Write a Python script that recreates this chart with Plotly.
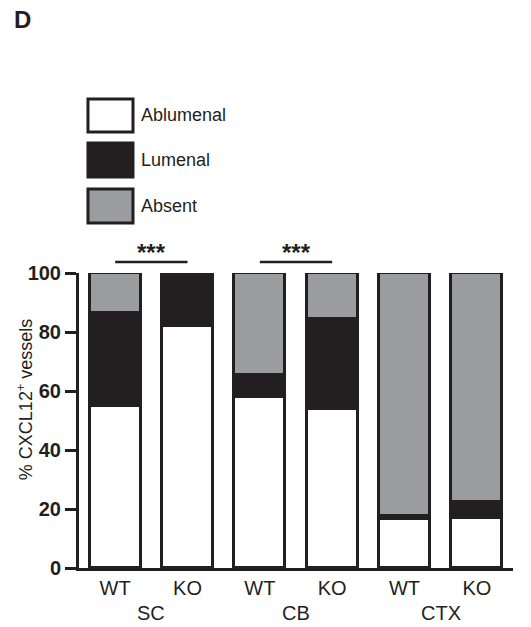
import plotly.graph_objects as go

# ---- data ----
genotypes = ["WT", "KO", "WT", "KO", "WT", "KO"]
regions = ["SC", "CB", "CTX"]
ablumenal = [55, 82, 58, 54, 16.5, 17]
lumenal = [31.5, 18, 7.5, 30.5, 1, 5.5]
absent = [13.5, 0, 34.5, 15.5, 82.5, 77.5]
series_names = ["Ablumenal", "Lumenal", "Absent"]
sig_pairs = [(0, 1), (2, 3)]
sig_labels = ["***", "***"]
sig_level = 103.7
y_ticks = [0, 20, 40, 60, 80, 100]
y_max = 100

# ---- style ----
INK = "#231f20"
colors = {"Ablumenal": "#ffffff", "Lumenal": "#231f20", "Absent": "#9b9c9e"}
FONT = "Liberation Sans, Arial, sans-serif"

x = list(range(len(genotypes)))
fig = go.Figure()
for name, vals in zip(series_names, [ablumenal, lumenal, absent]):
    fig.add_trace(go.Bar(
        x=x, y=vals, name=name, width=0.705,
        marker=dict(color=colors[name], line=dict(color=INK, width=3)),
        showlegend=False, hoverinfo="skip",
    ))

# significance brackets (x in data units, y as fraction of the 0-100 axis)
for (a, b), lab in zip(sig_pairs, sig_labels):
    fig.add_shape(type="line", xref="x", yref="paper",
                  x0=a, x1=b, y0=sig_level / y_max, y1=sig_level / y_max,
                  line=dict(color=INK, width=2.5))
    fig.add_annotation(x=(a + b) / 2, y=sig_level / y_max, xref="x", yref="paper",
                       yshift=-6, text=lab, showarrow=False, yanchor="bottom",
                       font=dict(family=FONT, size=24, color=INK, weight="bold"))

# group labels
for i, r in enumerate(regions):
    fig.add_annotation(
        x=2 * i + 0.5, y=0, xref="x", yref="paper", yshift=-45,
        text=r, showarrow=False, font=dict(family=FONT, size=20, color=INK),
        yanchor="middle",
    )

# manual legend
leg_x0, leg_x1 = 0.0207, 0.1244
leg_rows = [(1.5898, 1.478), (1.4407, 1.3254), (1.2847, 1.1695)]
for name, (y1, y0) in zip(series_names, leg_rows):
    fig.add_shape(type="rect", xref="paper", yref="paper",
                  x0=leg_x0, x1=leg_x1, y0=y0, y1=y1,
                  fillcolor=colors[name], line=dict(color=INK, width=3))
    fig.add_annotation(x=0.1382, y=(y0 + y1) / 2, xref="paper", yref="paper",
                       text=name, showarrow=False, xanchor="left", yanchor="middle",
                       font=dict(family=FONT, size=18, color=INK))

# y axis title
fig.add_annotation(x=-0.1244, y=0.569, xref="paper", yref="paper",
                   text="% CXCL12<sup>+</sup> vessels", textangle=-90,
                   showarrow=False, xanchor="center", yanchor="middle",
                   font=dict(family=FONT, size=18, color=INK))

# panel label
fig.add_annotation(x=-0.155, y=1.858, xref="paper", yref="paper", text="D",
                   showarrow=False, xanchor="left", yanchor="middle",
                   font=dict(family=FONT, size=24, color=INK, weight="bold"))

fig.update_layout(
    width=531, height=627,
    margin=dict(l=79, r=18, t=273, b=59, autoexpand=False),
    barmode="stack", bargap=0,
    plot_bgcolor="white", paper_bgcolor="white",
    font=dict(family=FONT, color=INK),
    xaxis=dict(
        range=[-0.5, 5.5], tickvals=x, ticktext=genotypes,
        showline=True, linewidth=3, linecolor=INK, ticks="",
        showgrid=False, zeroline=False, automargin=False,
        tickfont=dict(family=FONT, size=20, color=INK),
    ),
    yaxis=dict(
        range=[0, y_max], tickvals=y_ticks,
        showline=True, linewidth=3, linecolor=INK,
        ticks="outside", ticklen=11, tickwidth=2.5, tickcolor=INK,
        showgrid=False, zeroline=False, automargin=False,
        tickfont=dict(family=FONT, size=20, color=INK, weight="bold"),
    ),
)

fig.write_html("out.html", config={"displayModeBar": False},
               post_script="document.body.style.margin='0';document.body.style.overflow='hidden';")
